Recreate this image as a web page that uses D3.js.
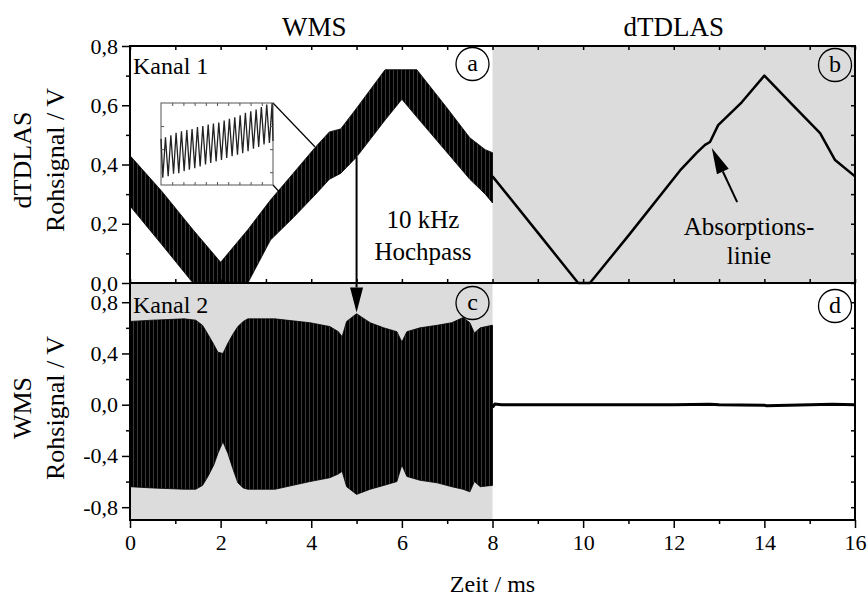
<!DOCTYPE html>
<html>
<head>
<meta charset="utf-8">
<script src="https://cdn.jsdelivr.net/npm/d3@7"></script>
<style>
body { margin: 0; background: #fff; }
text { font-family: "Liberation Serif", "Times New Roman", serif; fill: #000; }
</style>
</head>
<body>
<div id="chart"></div>
<script>
// Kanal 1, WMS half (0-8 ms): upper / lower edge of the modulated ramp
var k1Time  = [0, 0.7, 1.39, 2.0, 2.6, 3.1, 3.6, 4.1, 4.4, 4.65, 5.0, 5.63, 6.0, 6.33, 7.0, 7.5, 7.84, 8.0];
var k1Upper = [0.43, 0.31, 0.18, 0.07, 0.18, 0.28, 0.37, 0.46, 0.51, 0.52, 0.59, 0.72, 0.72, 0.72, 0.59, 0.49, 0.45, 0.44];
var k1Lower = [0.26, 0.13, 0.0, 0.0, 0.0, 0.145, 0.22, 0.30, 0.35, 0.37, 0.425, 0.55, 0.62, 0.56, 0.44, 0.35, 0.30, 0.27];

// Kanal 1, dTDLAS half (8-16 ms): plain ramp with absorption line
var dTime = [8, 9.0, 9.89, 10.15, 11.0, 12.14, 12.51, 12.69, 12.8, 12.98, 13.5, 14.0, 14.6, 15.23, 15.56, 16];
var dVal  = [0.36, 0.17, 0.0, 0.0, 0.16, 0.38, 0.44, 0.466, 0.476, 0.533, 0.61, 0.70, 0.605, 0.506, 0.415, 0.36];

// Kanal 2, WMS half (0-8 ms): envelope of the high-passed signal
var k2Time  = [0, 0.5, 1.2, 1.45, 1.6, 1.72, 1.85, 1.94, 2.05, 2.16, 2.27, 2.38, 2.5, 2.6, 3.2, 3.97, 4.41, 4.6, 4.68, 4.78, 5.0, 5.3, 5.6, 5.89, 6.0, 6.11, 6.4, 6.78, 7.1, 7.35, 7.5, 7.6, 7.73, 7.99, 8.0];
var k2Upper = [0.65, 0.66, 0.67, 0.66, 0.62, 0.55, 0.47, 0.41, 0.40, 0.48, 0.55, 0.61, 0.65, 0.67, 0.67, 0.64, 0.61, 0.57, 0.53, 0.65, 0.71, 0.64, 0.60, 0.57, 0.49, 0.57, 0.60, 0.62, 0.64, 0.68, 0.64, 0.56, 0.60, 0.62, 0.62];
var k2Lower = [-0.64, -0.65, -0.66, -0.66, -0.63, -0.56, -0.47, -0.38, -0.29, -0.38, -0.50, -0.61, -0.65, -0.66, -0.66, -0.60, -0.57, -0.54, -0.52, -0.64, -0.70, -0.66, -0.63, -0.60, -0.47, -0.56, -0.59, -0.61, -0.64, -0.66, -0.68, -0.60, -0.64, -0.63, -0.63];

// Kanal 2, dTDLAS half (8-16 ms): nearly flat
var k2rTime = [8, 8.05, 8.2, 10, 12, 12.8, 13, 14, 14.05, 15.5, 16];
var k2rVal  = [-0.02, 0.005, 0.0, 0.0, 0.0, 0.004, 0.0, -0.005, -0.008, 0.004, 0.0];

// Inset: a few modulation periods of Kanal 1 (time in us)
var insetT = [0, 12, 30, 48, 66, 84, 101, 119, 137, 155, 173, 190, 208, 226, 244, 262, 280, 298, 316, 333, 351,
              369, 387, 405, 423, 440, 458, 476, 494, 512, 530, 547, 565, 583, 601, 619, 637, 654, 672, 690, 708, 726, 744, 750];
var insetV = [0.39, 0.314, 0.393, 0.317, 0.397, 0.322, 0.402, 0.323, 0.405, 0.327, 0.407, 0.330, 0.409, 0.333, 0.413, 0.336, 0.415,
              0.340, 0.418, 0.343, 0.420, 0.346, 0.422, 0.349, 0.426, 0.353, 0.429, 0.356, 0.432, 0.359, 0.436, 0.362, 0.441,
              0.366, 0.444, 0.371, 0.447, 0.374, 0.452, 0.379, 0.457, 0.382, 0.46, 0.386];

var xTicksMajor = [0, 2, 4, 6, 8, 10, 12, 14, 16];
var xTicksMinor = [1, 3, 5, 7, 9, 11, 13, 15];
var yTopMajor = [0, 0.2, 0.4, 0.6, 0.8];
var yTopMinor = [0.1, 0.3, 0.5, 0.7];
var yBotMajor = [-0.8, -0.4, 0, 0.4, 0.8];
var yBotMinor = [-0.6, -0.2, 0.2, 0.6];

// Set up SVG
var svgWidth = 867;
var svgHeight = 596;
var frame = { left: 130, right: 855, top: 46, mid: 283, bottom: 520 };

var svg = d3.select("#chart").append("svg").attr("width", svgWidth).attr("height", svgHeight);

// faint hairline texture of the densely modulated signals
var pat = svg.append("defs").append("pattern").attr("id", "hatch")
    .attr("patternUnits", "userSpaceOnUse").attr("width", 4).attr("height", 10);
pat.append("rect").attr("width", 4).attr("height", 10).attr("fill", "#000");
pat.append("rect").attr("x", 1.5).attr("width", 0.5).attr("height", 10).attr("fill", "#707070");

var x = d3.scaleLinear().domain([0, 16]).range([frame.left, frame.right]);
var yTop = d3.scaleLinear().domain([0, 0.8]).range([frame.mid, frame.top]);
var yBot = d3.scaleLinear().domain([-0.9, 0.95]).range([frame.bottom, frame.mid]);

var fmt = function(d) { return d3.format(".1f")(d).replace(".", ",").replace("\u2212", "-"); };

// grey panels (b) and (c)
svg.append("rect").attr("x", x(8)).attr("y", frame.top).attr("width", x(16) - x(8)).attr("height", frame.mid - frame.top).attr("fill", "#dcdcdc");
svg.append("rect").attr("x", x(0)).attr("y", frame.mid).attr("width", x(8) - x(0)).attr("height", frame.bottom - frame.mid).attr("fill", "#dcdcdc");

// inset geometry
var inset = { left: 161, right: 273, top: 103, bottom: 185 };
var ix = d3.scaleLinear().domain([0, 750]).range([inset.left, inset.right]);
var iy = d3.scaleLinear().domain([0.30, 0.46]).range([inset.bottom, inset.top]);

// zoom lines from inset to the signal
svg.append("line").attr("x1", inset.right).attr("y1", inset.top).attr("x2", x(4.08)).attr("y2", yTop(0.46))
    .attr("stroke", "#000").attr("stroke-width", 1.2);
svg.append("line").attr("x1", inset.right).attr("y1", inset.bottom).attr("x2", x(3.4)).attr("y2", yTop(0.29))
    .attr("stroke", "#000").attr("stroke-width", 1.2);

// Kanal 1 band
var k1 = k1Time.map((t, i) => ({ t: t, hi: k1Upper[i], lo: k1Lower[i] }));
svg.append("path").datum(k1)
    .attr("d", d3.area().x(d => x(d.t)).y0(d => yTop(d.lo)).y1(d => yTop(d.hi)))
    .attr("fill", "url(#hatch)").attr("stroke", "#000").attr("stroke-width", 0.8);

// Kanal 1 dTDLAS line
var dLine = dTime.map((t, i) => ({ t: t, v: dVal[i] }));
svg.append("path").datum(dLine)
    .attr("d", d3.line().x(d => x(d.t)).y(d => yTop(d.v)))
    .attr("fill", "none").attr("stroke", "#000").attr("stroke-width", 2.5).attr("stroke-linejoin", "round");

// Kanal 2 band
var k2 = k2Time.map((t, i) => ({ t: t, hi: k2Upper[i], lo: k2Lower[i] }));
svg.append("path").datum(k2)
    .attr("d", d3.area().x(d => x(d.t)).y0(d => yBot(d.lo)).y1(d => yBot(d.hi)))
    .attr("fill", "url(#hatch)").attr("stroke", "#000").attr("stroke-width", 0.8);

var k2r = k2rTime.map((t, i) => ({ t: t, v: k2rVal[i] }));
svg.append("path").datum(k2r)
    .attr("d", d3.line().x(d => x(d.t)).y(d => yBot(d.v)))
    .attr("fill", "none").attr("stroke", "#000").attr("stroke-width", 3);

// inset box and wave
var insetG = svg.append("g");
insetG.append("rect").attr("x", inset.left).attr("y", inset.top)
    .attr("width", inset.right - inset.left).attr("height", inset.bottom - inset.top)
    .attr("fill", "#fff").attr("stroke", "#555").attr("stroke-width", 1);
var iw = insetT.map((t, i) => ({ t: t, v: insetV[i] }));
insetG.append("path").datum(iw)
    .attr("d", d3.line().x(d => ix(d.t)).y(d => iy(d.v)))
    .attr("fill", "none").attr("stroke", "#222").attr("stroke-width", 1.3);
insetG.append("g").attr("transform", `translate(0, ${inset.top})`)
    .call(d3.axisBottom(ix).tickValues(d3.range(75, 750, 75)).tickSize(3).tickFormat(""));
insetG.append("g").attr("transform", `translate(0, ${inset.bottom})`)
    .call(d3.axisTop(ix).tickValues(d3.range(75, 750, 75)).tickSize(3).tickFormat(""));
insetG.append("g").attr("transform", `translate(${inset.left}, 0)`)
    .call(d3.axisRight(iy).tickValues([0.325, 0.37, 0.415]).tickSize(3).tickFormat(""));
insetG.append("g").attr("transform", `translate(${inset.right}, 0)`)
    .call(d3.axisLeft(iy).tickValues([0.325, 0.37, 0.415]).tickSize(3).tickFormat(""));
insetG.selectAll(".domain").remove();
insetG.selectAll(".tick line").attr("stroke", "#555");

// axes
function addAxis(axis, tx, ty, labels, size) {
    var g = svg.append("g").attr("transform", `translate(${tx}, ${ty})`).call(axis);
    g.select(".domain").remove();
    g.selectAll(".tick line").attr("stroke", "#000").attr("stroke-width", 1.5);
    g.selectAll(".tick text").style("font-family", "'Liberation Serif', serif").style("font-size", size + "px").attr("fill", "#000");
    if (!labels) g.selectAll(".tick text").remove();
    return g;
}

// top panel
addAxis(d3.axisLeft(yTop).tickValues(yTopMajor).tickSize(8).tickPadding(4).tickFormat(fmt), frame.left, 0, true, 22);
addAxis(d3.axisLeft(yTop).tickValues(yTopMinor).tickSize(4), frame.left, 0, false);
addAxis(d3.axisLeft(yTop).tickValues(yTopMajor.concat(yTopMinor)).tickSize(4), frame.right, 0, false);
addAxis(d3.axisBottom(x).tickValues(xTicksMajor.concat(xTicksMinor)).tickSize(4), 0, frame.top, false);
addAxis(d3.axisTop(x).tickValues(xTicksMajor.concat(xTicksMinor)).tickSize(4), 0, frame.mid, false);

// bottom panel
addAxis(d3.axisLeft(yBot).tickValues(yBotMajor).tickSize(8).tickPadding(4).tickFormat(fmt), frame.left, 0, true, 22);
addAxis(d3.axisLeft(yBot).tickValues(yBotMinor).tickSize(4), frame.left, 0, false);
addAxis(d3.axisLeft(yBot).tickValues(yBotMajor.concat(yBotMinor)).tickSize(4), frame.right, 0, false);
addAxis(d3.axisBottom(x).tickValues(xTicksMajor).tickSize(8).tickPadding(6).tickFormat(d3.format("d")), 0, frame.bottom, true, 22);
addAxis(d3.axisBottom(x).tickValues(xTicksMinor).tickSize(4), 0, frame.bottom, false);

// frames
svg.append("rect").attr("x", frame.left).attr("y", frame.top)
    .attr("width", frame.right - frame.left).attr("height", frame.bottom - frame.top)
    .attr("fill", "none").attr("stroke", "#000").attr("stroke-width", 2);
svg.append("line").attr("x1", frame.left).attr("x2", frame.right).attr("y1", frame.mid).attr("y2", frame.mid)
    .attr("stroke", "#000").attr("stroke-width", 2);

// titles
svg.append("text").attr("x", (x(0) + x(8)) / 2 + 3).attr("y", 36).attr("text-anchor", "middle").style("font-size", "27px").text("WMS");
svg.append("text").attr("x", (x(8) + x(16)) / 2).attr("y", 36).attr("text-anchor", "middle").style("font-size", "27px").text("dTDLAS");

// y axis labels
function yLabel(cx, cy, lines) {
    var t = svg.append("text").attr("transform", `translate(${cx}, ${cy}) rotate(-90)`)
        .attr("text-anchor", "middle").style("font-size", "26px");
    lines.forEach(function(s, i) {
        t.append("tspan").attr("x", 0).attr("dy", i === 0 ? 0 : "1.25em").text(s);
    });
}
yLabel(31, 160, ["dTDLAS", "Rohsignal / V"]);
yLabel(31, 408, ["WMS", "Rohsignal / V"]);

svg.append("text").attr("x", (frame.left + frame.right) / 2).attr("y", 592).attr("text-anchor", "middle")
    .style("font-size", "24px").text("Zeit / ms");

// channel names
svg.append("text").attr("x", 133).attr("y", 74).style("font-size", "24px").text("Kanal 1");
svg.append("text").attr("x", 133).attr("y", 313).style("font-size", "24px").text("Kanal 2");

// annotations
function textLines(cx, y0, lines, size, gap) {
    lines.forEach(function(s, i) {
        svg.append("text").attr("x", cx).attr("y", y0 + i * gap).attr("text-anchor", "middle")
            .style("font-size", size + "px").text(s);
    });
}
textLines(423, 228, ["10 kHz", "Hochpass"], 25, 32);
textLines(749, 235, ["Absorptions-", "linie"], 25, 29);

function arrow(x1, y1, x2, y2, len, half) {
    var a = Math.atan2(y2 - y1, x2 - x1);
    var bx = x2 - len * Math.cos(a), by = y2 - len * Math.sin(a);
    svg.append("line").attr("x1", x1).attr("y1", y1).attr("x2", bx).attr("y2", by)
        .attr("stroke", "#000").attr("stroke-width", 2);
    var p = [[x2, y2],
             [bx + half * Math.sin(a), by - half * Math.cos(a)],
             [bx - half * Math.sin(a), by + half * Math.cos(a)]];
    svg.append("path").attr("d", "M" + p.join("L") + "Z").attr("fill", "#000");
}
arrow(x(5), yTop(0.425), x(5), yBot(0.72), 25, 6.5);
arrow(x(13.40), yTop(0.273), x(12.84), yTop(0.456), 26, 6.5);

// panel letters
function badge(cx, cy, s) {
    svg.append("circle").attr("cx", cx).attr("cy", cy).attr("r", 16.5)
        .attr("fill", "none").attr("stroke", "#000").attr("stroke-width", 1.3);
    svg.append("text").attr("x", cx).attr("y", cy + 7).attr("text-anchor", "middle").style("font-size", "24px").text(s);
}
badge(x(8) - 20, 64, "a");
badge(x(16) - 20, 65, "b");
badge(x(8) - 20, 303, "c");
badge(x(16) - 20, 306, "d");
</script>
</body>
</html>
